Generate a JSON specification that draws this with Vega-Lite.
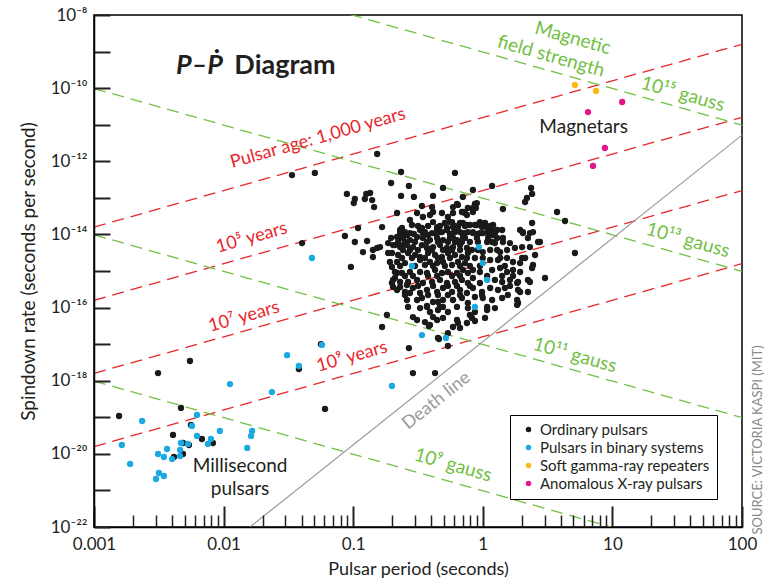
{
"$schema":"https://vega.github.io/schema/vega-lite/v6.json",
"width":648,"height":512,
"autosize":{"type":"none"},
"padding":{"left":94,"top":15,"right":30,"bottom":57},
"config":{
 "font":"Lato",
 "view":{"stroke":"black","strokeWidth":1.5},
 "axis":{"grid":false,"domainColor":"black","domainWidth":1.5,"labelColor":"#231f20","titleColor":"#231f20","titleFontWeight":"normal","labelFont":"Lato","titleFont":"Lato","labelFlush":false,"labelOverlap":false}
},
"datasets":{
"lines":[
{"line":"a3","kind":"age","P":0.001,"Pdot":1.584e-14},{"line":"a3","kind":"age","P":100,"Pdot":1.584e-9},
{"line":"a5","kind":"age","P":0.001,"Pdot":1.584e-16},{"line":"a5","kind":"age","P":100,"Pdot":1.584e-11},
{"line":"a7","kind":"age","P":0.001,"Pdot":1.584e-18},{"line":"a7","kind":"age","P":100,"Pdot":1.584e-13},
{"line":"a9","kind":"age","P":0.001,"Pdot":1.584e-20},{"line":"a9","kind":"age","P":100,"Pdot":1.584e-15},
{"line":"b15","kind":"field","P":0.001,"Pdot":9.77e-7},{"line":"b15","kind":"field","P":100,"Pdot":9.77e-12},
{"line":"b13","kind":"field","P":0.001,"Pdot":9.77e-11},{"line":"b13","kind":"field","P":100,"Pdot":9.77e-16},
{"line":"b11","kind":"field","P":0.001,"Pdot":9.77e-15},{"line":"b11","kind":"field","P":100,"Pdot":9.77e-20},
{"line":"b9","kind":"field","P":0.001,"Pdot":9.77e-19},{"line":"b9","kind":"field","P":100,"Pdot":9.77e-24},
{"line":"death","kind":"death","P":0.016,"Pdot":1e-22},{"line":"death","kind":"death","P":100,"Pdot":5.2e-12}
],
"labels":[
{"text":"Pulsar age: 1,000 years","P":0.0535,"Pdot":4.2e-12,"group":"age"},
{"text":"10⁵ years","P":0.0165,"Pdot":8.0e-15,"group":"age"},
{"text":"10⁷ years","P":0.0144,"Pdot":5.5e-17,"group":"age"},
{"text":"10⁹ years","P":0.098,"Pdot":4.45e-18,"group":"age"},
{"text":"Magnetic","P":4.96,"Pdot":2.35e-9,"group":"field"},
{"text":"field strength","P":3.36,"Pdot":7.5e-10,"group":"field"},
{"text":"10¹⁵ gauss","P":35,"Pdot":6.9e-11,"group":"field"},
{"text":"10¹³ gauss","P":38.3,"Pdot":7.0e-15,"group":"field"},
{"text":"10¹¹ gauss","P":5.14,"Pdot":5.0e-18,"group":"field"},
{"text":"10⁹ gauss","P":0.59,"Pdot":4.95e-21,"group":"field"},
{"text":"Magnetars","P":6.0,"Pdot":8.7e-12,"group":"note"},
{"text":"Millisecond","P":0.0134,"Pdot":4.65e-21,"group":"note"},
{"text":"pulsars","P":0.0134,"Pdot":1.07e-21,"group":"note"},
{"text":"Death line","P":0.44,"Pdot":2.8e-19,"group":"death"},
{"text":"P–Ṗ","P":0.00429,"Pdot":2.5e-10,"group":"titleA"},
{"text":"Diagram","P":0.0121,"Pdot":2.5e-10,"group":"titleB"},
{"text":"SOURCE:  VICTORIA KASPI (MIT)","P":133,"Pdot":2.4e-20,"group":"source"}
],
"pulsars":[
{"P":0.0337,"Pdot":4.2e-13,"type":"Ordinary pulsars"},
{"P":0.0506,"Pdot":4.8e-13,"type":"Ordinary pulsars"},
{"P":0.0403,"Pdot":5.8e-15,"type":"Ordinary pulsars"},
{"P":0.153,"Pdot":1.58e-12,"type":"Ordinary pulsars"},
{"P":0.0894,"Pdot":1.28e-13,"type":"Ordinary pulsars"},
{"P":0.103,"Pdot":9.3e-14,"type":"Ordinary pulsars"},
{"P":0.101,"Pdot":7.2e-14,"type":"Ordinary pulsars"},
{"P":0.126,"Pdot":1.28e-13,"type":"Ordinary pulsars"},
{"P":0.135,"Pdot":1.36e-13,"type":"Ordinary pulsars"},
{"P":0.123,"Pdot":9.3e-14,"type":"Ordinary pulsars"},
{"P":0.140,"Pdot":8.7e-14,"type":"Ordinary pulsars"},
{"P":0.145,"Pdot":5.6e-14,"type":"Ordinary pulsars"},
{"P":0.196,"Pdot":2.55e-13,"type":"Ordinary pulsars"},
{"P":0.234,"Pdot":5.1e-13,"type":"Ordinary pulsars"},
{"P":0.269,"Pdot":2.12e-13,"type":"Ordinary pulsars"},
{"P":0.234,"Pdot":1.13e-13,"type":"Ordinary pulsars"},
{"P":0.294,"Pdot":1.06e-13,"type":"Ordinary pulsars"},
{"P":0.413,"Pdot":1.13e-13,"type":"Ordinary pulsars"},
{"P":0.493,"Pdot":1.87e-13,"type":"Ordinary pulsars"},
{"P":0.610,"Pdot":4.8e-13,"type":"Ordinary pulsars"},
{"P":0.839,"Pdot":1.64e-13,"type":"Ordinary pulsars"},
{"P":1.18,"Pdot":2.12e-13,"type":"Ordinary pulsars"},
{"P":2.36,"Pdot":1.87e-13,"type":"Ordinary pulsars"},
{"P":2.40,"Pdot":1.28e-13,"type":"Ordinary pulsars"},
{"P":2.19,"Pdot":9.9e-14,"type":"Ordinary pulsars"},
{"P":2.12,"Pdot":7.7e-14,"type":"Ordinary pulsars"},
{"P":1.43,"Pdot":4.95e-14,"type":"Ordinary pulsars"},
{"P":3.74,"Pdot":4.1e-14,"type":"Ordinary pulsars"},
{"P":4.31,"Pdot":2.33e-14,"type":"Ordinary pulsars"},
{"P":5.14,"Pdot":3.1e-15,"type":"Ordinary pulsars"},
{"P":3.02,"Pdot":6.45e-16,"type":"Ordinary pulsars"},
{"P":0.702,"Pdot":1.06e-13,"type":"Ordinary pulsars"},
{"P":0.109,"Pdot":1.50e-14,"type":"Ordinary pulsars"},
{"P":0.0863,"Pdot":9.05e-15,"type":"Ordinary pulsars"},
{"P":0.103,"Pdot":6.2e-15,"type":"Ordinary pulsars"},
{"P":0.128,"Pdot":6.6e-15,"type":"Ordinary pulsars"},
{"P":0.096,"Pdot":1.29e-15,"type":"Ordinary pulsars"},
{"P":0.119,"Pdot":3.3e-15,"type":"Ordinary pulsars"},
{"P":0.153,"Pdot":4.26e-15,"type":"Ordinary pulsars"},
{"P":0.142,"Pdot":3.75e-15,"type":"Ordinary pulsars"},
{"P":0.167,"Pdot":1.59e-14,"type":"Ordinary pulsars"},
{"P":0.218,"Pdot":3.85e-14,"type":"Ordinary pulsars"},
{"P":0.161,"Pdot":4.5e-15,"type":"Ordinary pulsars"},
{"P":0.186,"Pdot":5.8e-15,"type":"Ordinary pulsars"},
{"P":0.210,"Pdot":5.1e-15,"type":"Ordinary pulsars"},
{"P":0.242,"Pdot":5.1e-15,"type":"Ordinary pulsars"},
{"P":0.142,"Pdot":2.41e-15,"type":"Ordinary pulsars"},
{"P":0.186,"Pdot":3.1e-15,"type":"Ordinary pulsars"},
{"P":0.192,"Pdot":1.76e-15,"type":"Ordinary pulsars"},
{"P":0.199,"Pdot":1.29e-15,"type":"Ordinary pulsars"},
{"P":0.218,"Pdot":8.8e-16,"type":"Ordinary pulsars"},
{"P":0.210,"Pdot":6.45e-16,"type":"Ordinary pulsars"},
{"P":0.199,"Pdot":4.7e-16,"type":"Ordinary pulsars"},
{"P":0.203,"Pdot":3.66e-16,"type":"Ordinary pulsars"},
{"P":0.230,"Pdot":3.66e-16,"type":"Ordinary pulsars"},
{"P":0.260,"Pdot":4.15e-16,"type":"Ordinary pulsars"},
{"P":0.251,"Pdot":2.21e-16,"type":"Ordinary pulsars"},
{"P":0.274,"Pdot":2.5e-16,"type":"Ordinary pulsars"},
{"P":0.328,"Pdot":2.5e-16,"type":"Ordinary pulsars"},
{"P":0.311,"Pdot":1.61e-16,"type":"Ordinary pulsars"},
{"P":0.265,"Pdot":1.04e-16,"type":"Ordinary pulsars"},
{"P":0.289,"Pdot":5.5e-17,"type":"Ordinary pulsars"},
{"P":0.328,"Pdot":9.7e-17,"type":"Ordinary pulsars"},
{"P":0.371,"Pdot":1.04e-16,"type":"Ordinary pulsars"},
{"P":0.391,"Pdot":7.55e-17,"type":"Ordinary pulsars"},
{"P":0.413,"Pdot":5.5e-17,"type":"Ordinary pulsars"},
{"P":0.451,"Pdot":1.42e-16,"type":"Ordinary pulsars"},
{"P":0.493,"Pdot":1.04e-16,"type":"Ordinary pulsars"},
{"P":0.451,"Pdot":8.6e-17,"type":"Ordinary pulsars"},
{"P":0.311,"Pdot":4.57e-17,"type":"Ordinary pulsars"},
{"P":0.358,"Pdot":4.0e-17,"type":"Ordinary pulsars"},
{"P":0.391,"Pdot":3.33e-17,"type":"Ordinary pulsars"},
{"P":0.444,"Pdot":4.57e-17,"type":"Ordinary pulsars"},
{"P":0.493,"Pdot":5.2e-17,"type":"Ordinary pulsars"},
{"P":0.538,"Pdot":7.55e-17,"type":"Ordinary pulsars"},
{"P":0.167,"Pdot":2.94e-17,"type":"Ordinary pulsars"},
{"P":0.451,"Pdot":1.47e-17,"type":"Ordinary pulsars"},
{"P":0.459,"Pdot":1.38e-17,"type":"Ordinary pulsars"},
{"P":0.538,"Pdot":2.0e-17,"type":"Ordinary pulsars"},
{"P":0.269,"Pdot":7.8e-18,"type":"Ordinary pulsars"},
{"P":0.289,"Pdot":1.62e-18,"type":"Ordinary pulsars"},
{"P":0.428,"Pdot":1.62e-18,"type":"Ordinary pulsars"},
{"P":0.538,"Pdot":8.9e-18,"type":"Ordinary pulsars"},
{"P":0.384,"Pdot":3.13e-17,"type":"Ordinary pulsars"},
{"P":0.182,"Pdot":6.25e-17,"type":"Ordinary pulsars"},
{"P":0.0606,"Pdot":1.69e-19,"type":"Ordinary pulsars"},
{"P":0.0564,"Pdot":1.0e-17,"type":"Ordinary pulsars"},
{"P":0.0381,"Pdot":2.09e-18,"type":"Ordinary pulsars"},
{"P":0.00156,"Pdot":1.085e-19,"type":"Ordinary pulsars"},
{"P":0.00312,"Pdot":1.62e-18,"type":"Ordinary pulsars"},
{"P":0.0055,"Pdot":3.46e-18,"type":"Ordinary pulsars"},
{"P":0.00469,"Pdot":1.8e-19,"type":"Ordinary pulsars"},
{"P":0.0056,"Pdot":6.2e-20,"type":"Ordinary pulsars"},
{"P":0.00407,"Pdot":3.29e-20,"type":"Ordinary pulsars"},
{"P":0.00486,"Pdot":1.98e-20,"type":"Ordinary pulsars"},
{"P":0.0054,"Pdot":1.75e-20,"type":"Ordinary pulsars"},
{"P":0.0068,"Pdot":2.55e-20,"type":"Ordinary pulsars"},
{"P":0.00827,"Pdot":1.98e-20,"type":"Ordinary pulsars"},
{"P":0.00414,"Pdot":8.2e-21,"type":"Ordinary pulsars"},
{"P":0.00486,"Pdot":9.9e-21,"type":"Ordinary pulsars"},
{"P":2.31,"Pdot":4.5e-15,"type":"Ordinary pulsars"},
{"P":2.67,"Pdot":6.2e-15,"type":"Ordinary pulsars"},
{"P":2.53,"Pdot":2.74e-15,"type":"Ordinary pulsars"},
{"P":2.01,"Pdot":2.27e-15,"type":"Ordinary pulsars"},
{"P":2.44,"Pdot":1.46e-15,"type":"Ordinary pulsars"},
{"P":2.31,"Pdot":5.0e-16,"type":"Ordinary pulsars"},
{"P":1.84,"Pdot":4.7e-16,"type":"Ordinary pulsars"},
{"P":1.94,"Pdot":2.67e-16,"type":"Ordinary pulsars"},
{"P":1.84,"Pdot":1.61e-16,"type":"Ordinary pulsars"},
{"P":1.87,"Pdot":1.34e-16,"type":"Ordinary pulsars"},
{"P":1.08,"Pdot":8.6e-17,"type":"Ordinary pulsars"},
{"P":1.04,"Pdot":5.2e-17,"type":"Ordinary pulsars"},
{"P":0.795,"Pdot":6.25e-17,"type":"Ordinary pulsars"},
{"P":0.754,"Pdot":3.78e-17,"type":"Ordinary pulsars"},
{"P":0.632,"Pdot":4.57e-17,"type":"Ordinary pulsars"},
{"P":0.589,"Pdot":2.94e-17,"type":"Ordinary pulsars"},
{"P":0.667,"Pdot":2.76e-17,"type":"Ordinary pulsars"},
{"P":0.767,"Pdot":9.7e-17,"type":"Ordinary pulsars"},
{"P":0.869,"Pdot":7.55e-17,"type":"Ordinary pulsars"},
{"P":0.824,"Pdot":5.2e-17,"type":"Ordinary pulsars"},
{"P":0.643,"Pdot":3.78e-17,"type":"Ordinary pulsars"},
{"P":0.869,"Pdot":4.3e-17,"type":"Ordinary pulsars"},
{"P":1.94,"Pdot":1.32e-14,"type":"Ordinary pulsars"},
{"P":2.04,"Pdot":1.09e-14,"type":"Ordinary pulsars"},
{"P":2.31,"Pdot":1.09e-14,"type":"Ordinary pulsars"},
{"P":2.44,"Pdot":1.16e-14,"type":"Ordinary pulsars"},
{"P":2.23,"Pdot":8.0e-15,"type":"Ordinary pulsars"},
{"P":0.238,"Pdot":1.5e-14,"type":"Ordinary pulsars"},
{"P":0.247,"Pdot":1.16e-14,"type":"Ordinary pulsars"},
{"P":0.230,"Pdot":1.09e-14,"type":"Ordinary pulsars"},
{"P":0.260,"Pdot":9.6e-15,"type":"Ordinary pulsars"},
{"P":0.274,"Pdot":1.09e-14,"type":"Ordinary pulsars"},
{"P":0.339,"Pdot":1.5e-14,"type":"Ordinary pulsars"},
{"P":0.345,"Pdot":1.09e-14,"type":"Ordinary pulsars"},
{"P":0.378,"Pdot":9.6e-15,"type":"Ordinary pulsars"},
{"P":0.444,"Pdot":1.32e-14,"type":"Ordinary pulsars"},
{"P":0.484,"Pdot":1.16e-14,"type":"Ordinary pulsars"},
{"P":0.529,"Pdot":1.5e-14,"type":"Ordinary pulsars"},
{"P":0.196,"Pdot":8.0e-15,"type":"Ordinary pulsars"},
{"P":0.230,"Pdot":8.5e-15,"type":"Ordinary pulsars"},
{"P":0.589,"Pdot":5.6e-14,"type":"Ordinary pulsars"},
{"P":0.632,"Pdot":6.8e-14,"type":"Ordinary pulsars"},
{"P":0.702,"Pdot":4.1e-14,"type":"Ordinary pulsars"},
{"P":0.767,"Pdot":5.3e-14,"type":"Ordinary pulsars"},
{"P":0.884,"Pdot":5.3e-14,"type":"Ordinary pulsars"},
{"P":0.869,"Pdot":6.8e-14,"type":"Ordinary pulsars"},
{"P":0.839,"Pdot":4.1e-14,"type":"Ordinary pulsars"},
{"P":0.754,"Pdot":3.4e-14,"type":"Ordinary pulsars"},
{"P":0.579,"Pdot":2.18e-14,"type":"Ordinary pulsars"},
{"P":0.643,"Pdot":1.59e-14,"type":"Ordinary pulsars"},
{"P":0.702,"Pdot":2.05e-14,"type":"Ordinary pulsars"},
{"P":0.795,"Pdot":1.81e-14,"type":"Ordinary pulsars"},
{"P":0.869,"Pdot":1.81e-14,"type":"Ordinary pulsars"},
{"P":0.950,"Pdot":2.18e-14,"type":"Ordinary pulsars"},
{"P":0.986,"Pdot":1.59e-14,"type":"Ordinary pulsars"},
{"P":1.08,"Pdot":1.50e-14,"type":"Ordinary pulsars"},
{"P":1.18,"Pdot":1.32e-14,"type":"Ordinary pulsars"},
{"P":1.29,"Pdot":1.32e-14,"type":"Ordinary pulsars"},
{"P":0.610,"Pdot":1.16e-14,"type":"Ordinary pulsars"},
{"P":0.690,"Pdot":1.09e-14,"type":"Ordinary pulsars"},
{"P":0.767,"Pdot":1.16e-14,"type":"Ordinary pulsars"},
{"P":0.839,"Pdot":1.09e-14,"type":"Ordinary pulsars"},
{"P":1.00,"Pdot":1.09e-14,"type":"Ordinary pulsars"},
{"P":1.20,"Pdot":9.6e-15,"type":"Ordinary pulsars"},
{"P":1.43,"Pdot":8.0e-15,"type":"Ordinary pulsars"},
{"P":0.589,"Pdot":8.0e-15,"type":"Ordinary pulsars"},
{"P":0.728,"Pdot":8.0e-15,"type":"Ordinary pulsars"},
{"P":0.900,"Pdot":8.0e-15,"type":"Ordinary pulsars"},
{"P":1.10,"Pdot":8.0e-15,"type":"Ordinary pulsars"},
{"P":1.29,"Pdot":8.0e-15,"type":"Ordinary pulsars"},
{"P":0.339,"Pdot":6.0e-14,"type":"Ordinary pulsars"},
{"P":0.406,"Pdot":5.6e-14,"type":"Ordinary pulsars"},
{"P":0.643,"Pdot":6.4e-14,"type":"Ordinary pulsars"},
{"P":0.690,"Pdot":4.1e-14,"type":"Ordinary pulsars"},
{"P":0.311,"Pdot":3.85e-14,"type":"Ordinary pulsars"},
{"P":0.345,"Pdot":3.0e-14,"type":"Ordinary pulsars"},
{"P":0.391,"Pdot":3.4e-14,"type":"Ordinary pulsars"},
{"P":0.413,"Pdot":4.1e-14,"type":"Ordinary pulsars"},
{"P":0.484,"Pdot":3.85e-14,"type":"Ordinary pulsars"},
{"P":0.538,"Pdot":3.0e-14,"type":"Ordinary pulsars"},
{"P":0.589,"Pdot":3.85e-14,"type":"Ordinary pulsars"},
{"P":0.728,"Pdot":3.85e-14,"type":"Ordinary pulsars"},
{"P":0.274,"Pdot":2.48e-14,"type":"Ordinary pulsars"},
{"P":0.284,"Pdot":1.81e-14,"type":"Ordinary pulsars"},
{"P":0.413,"Pdot":2.18e-14,"type":"Ordinary pulsars"},
{"P":0.444,"Pdot":1.59e-14,"type":"Ordinary pulsars"},
{"P":0.510,"Pdot":2.05e-14,"type":"Ordinary pulsars"},
{"P":0.558,"Pdot":2.18e-14,"type":"Ordinary pulsars"},
{"P":0.589,"Pdot":1.59e-14,"type":"Ordinary pulsars"},
{"P":0.667,"Pdot":2.05e-14,"type":"Ordinary pulsars"},
{"P":0.754,"Pdot":1.81e-14,"type":"Ordinary pulsars"},
{"P":0.230,"Pdot":1.32e-14,"type":"Ordinary pulsars"},
{"P":0.251,"Pdot":1.16e-14,"type":"Ordinary pulsars"},
{"P":0.328,"Pdot":1.32e-14,"type":"Ordinary pulsars"},
{"P":0.358,"Pdot":1.16e-14,"type":"Ordinary pulsars"},
{"P":0.406,"Pdot":1.09e-14,"type":"Ordinary pulsars"},
{"P":0.467,"Pdot":1.16e-14,"type":"Ordinary pulsars"},
{"P":0.529,"Pdot":1.32e-14,"type":"Ordinary pulsars"},
{"P":0.589,"Pdot":1.09e-14,"type":"Ordinary pulsars"},
{"P":0.667,"Pdot":1.16e-14,"type":"Ordinary pulsars"},
{"P":0.728,"Pdot":1.09e-14,"type":"Ordinary pulsars"},
{"P":0.218,"Pdot":8.5e-15,"type":"Ordinary pulsars"},
{"P":0.242,"Pdot":8.0e-15,"type":"Ordinary pulsars"},
{"P":0.274,"Pdot":7.0e-15,"type":"Ordinary pulsars"},
{"P":0.311,"Pdot":8.5e-15,"type":"Ordinary pulsars"},
{"P":0.345,"Pdot":8.0e-15,"type":"Ordinary pulsars"},
{"P":0.391,"Pdot":7.0e-15,"type":"Ordinary pulsars"},
{"P":0.444,"Pdot":8.0e-15,"type":"Ordinary pulsars"},
{"P":0.493,"Pdot":7.0e-15,"type":"Ordinary pulsars"},
{"P":0.558,"Pdot":8.0e-15,"type":"Ordinary pulsars"},
{"P":0.632,"Pdot":7.0e-15,"type":"Ordinary pulsars"},
{"P":0.702,"Pdot":8.0e-15,"type":"Ordinary pulsars"},
{"P":0.203,"Pdot":5.1e-15,"type":"Ordinary pulsars"},
{"P":0.230,"Pdot":4.5e-15,"type":"Ordinary pulsars"},
{"P":0.260,"Pdot":5.1e-15,"type":"Ordinary pulsars"},
{"P":0.289,"Pdot":4.5e-15,"type":"Ordinary pulsars"},
{"P":0.339,"Pdot":5.1e-15,"type":"Ordinary pulsars"},
{"P":0.371,"Pdot":4.26e-15,"type":"Ordinary pulsars"},
{"P":0.413,"Pdot":4.5e-15,"type":"Ordinary pulsars"},
{"P":0.467,"Pdot":5.1e-15,"type":"Ordinary pulsars"},
{"P":0.529,"Pdot":4.26e-15,"type":"Ordinary pulsars"},
{"P":0.589,"Pdot":4.5e-15,"type":"Ordinary pulsars"},
{"P":0.667,"Pdot":5.1e-15,"type":"Ordinary pulsars"},
{"P":0.754,"Pdot":4.26e-15,"type":"Ordinary pulsars"},
{"P":0.199,"Pdot":3.1e-15,"type":"Ordinary pulsars"},
{"P":0.222,"Pdot":2.74e-15,"type":"Ordinary pulsars"},
{"P":0.265,"Pdot":3.1e-15,"type":"Ordinary pulsars"},
{"P":0.300,"Pdot":2.74e-15,"type":"Ordinary pulsars"},
{"P":0.328,"Pdot":2.41e-15,"type":"Ordinary pulsars"},
{"P":0.378,"Pdot":3.1e-15,"type":"Ordinary pulsars"},
{"P":0.428,"Pdot":2.74e-15,"type":"Ordinary pulsars"},
{"P":0.484,"Pdot":2.41e-15,"type":"Ordinary pulsars"},
{"P":0.538,"Pdot":3.1e-15,"type":"Ordinary pulsars"},
{"P":0.610,"Pdot":2.74e-15,"type":"Ordinary pulsars"},
{"P":0.690,"Pdot":2.41e-15,"type":"Ordinary pulsars"},
{"P":0.767,"Pdot":3.1e-15,"type":"Ordinary pulsars"},
{"P":0.218,"Pdot":1.76e-15,"type":"Ordinary pulsars"},
{"P":0.251,"Pdot":1.65e-15,"type":"Ordinary pulsars"},
{"P":0.328,"Pdot":2.0e-15,"type":"Ordinary pulsars"},
{"P":0.358,"Pdot":1.46e-15,"type":"Ordinary pulsars"},
{"P":0.391,"Pdot":1.76e-15,"type":"Ordinary pulsars"},
{"P":0.444,"Pdot":1.65e-15,"type":"Ordinary pulsars"},
{"P":0.493,"Pdot":1.76e-15,"type":"Ordinary pulsars"},
{"P":0.579,"Pdot":1.46e-15,"type":"Ordinary pulsars"},
{"P":0.643,"Pdot":1.76e-15,"type":"Ordinary pulsars"},
{"P":0.728,"Pdot":1.65e-15,"type":"Ordinary pulsars"},
{"P":0.210,"Pdot":9.4e-16,"type":"Ordinary pulsars"},
{"P":0.238,"Pdot":8.8e-16,"type":"Ordinary pulsars"},
{"P":0.274,"Pdot":9.4e-16,"type":"Ordinary pulsars"},
{"P":0.328,"Pdot":9.4e-16,"type":"Ordinary pulsars"},
{"P":0.371,"Pdot":8.8e-16,"type":"Ordinary pulsars"},
{"P":0.428,"Pdot":1.065e-15,"type":"Ordinary pulsars"},
{"P":0.484,"Pdot":8.8e-16,"type":"Ordinary pulsars"},
{"P":0.538,"Pdot":9.4e-16,"type":"Ordinary pulsars"},
{"P":0.632,"Pdot":8.8e-16,"type":"Ordinary pulsars"},
{"P":0.702,"Pdot":1.065e-15,"type":"Ordinary pulsars"},
{"P":0.767,"Pdot":8.8e-16,"type":"Ordinary pulsars"},
{"P":0.203,"Pdot":5.7e-16,"type":"Ordinary pulsars"},
{"P":0.230,"Pdot":5.0e-16,"type":"Ordinary pulsars"},
{"P":0.265,"Pdot":5.0e-16,"type":"Ordinary pulsars"},
{"P":0.311,"Pdot":5.7e-16,"type":"Ordinary pulsars"},
{"P":0.345,"Pdot":4.7e-16,"type":"Ordinary pulsars"},
{"P":0.406,"Pdot":5.0e-16,"type":"Ordinary pulsars"},
{"P":0.467,"Pdot":5.7e-16,"type":"Ordinary pulsars"},
{"P":0.529,"Pdot":4.7e-16,"type":"Ordinary pulsars"},
{"P":0.610,"Pdot":5.0e-16,"type":"Ordinary pulsars"},
{"P":0.690,"Pdot":5.7e-16,"type":"Ordinary pulsars"},
{"P":0.767,"Pdot":4.7e-16,"type":"Ordinary pulsars"},
{"P":0.218,"Pdot":3.03e-16,"type":"Ordinary pulsars"},
{"P":0.251,"Pdot":2.67e-16,"type":"Ordinary pulsars"},
{"P":0.289,"Pdot":3.43e-16,"type":"Ordinary pulsars"},
{"P":0.371,"Pdot":3.03e-16,"type":"Ordinary pulsars"},
{"P":0.444,"Pdot":2.67e-16,"type":"Ordinary pulsars"},
{"P":0.493,"Pdot":3.43e-16,"type":"Ordinary pulsars"},
{"P":0.579,"Pdot":2.67e-16,"type":"Ordinary pulsars"},
{"P":0.667,"Pdot":3.03e-16,"type":"Ordinary pulsars"},
{"P":0.754,"Pdot":2.5e-16,"type":"Ordinary pulsars"},
{"P":0.260,"Pdot":1.61e-16,"type":"Ordinary pulsars"},
{"P":0.339,"Pdot":1.83e-16,"type":"Ordinary pulsars"},
{"P":0.413,"Pdot":1.42e-16,"type":"Ordinary pulsars"},
{"P":0.493,"Pdot":1.61e-16,"type":"Ordinary pulsars"},
{"P":0.589,"Pdot":1.61e-16,"type":"Ordinary pulsars"},
{"P":0.690,"Pdot":1.83e-16,"type":"Ordinary pulsars"},
{"P":0.767,"Pdot":1.34e-16,"type":"Ordinary pulsars"},
{"P":0.371,"Pdot":1.11e-16,"type":"Ordinary pulsars"},
{"P":0.467,"Pdot":1.04e-16,"type":"Ordinary pulsars"},
{"P":0.632,"Pdot":1.04e-16,"type":"Ordinary pulsars"},
{"P":0.839,"Pdot":5.3e-14,"type":"Ordinary pulsars"},
{"P":0.900,"Pdot":7.2e-14,"type":"Ordinary pulsars"},
{"P":0.900,"Pdot":1.81e-14,"type":"Ordinary pulsars"},
{"P":1.04,"Pdot":2.05e-14,"type":"Ordinary pulsars"},
{"P":1.20,"Pdot":1.81e-14,"type":"Ordinary pulsars"},
{"P":1.41,"Pdot":1.32e-14,"type":"Ordinary pulsars"},
{"P":1.24,"Pdot":1.09e-14,"type":"Ordinary pulsars"},
{"P":1.10,"Pdot":1.16e-14,"type":"Ordinary pulsars"},
{"P":0.950,"Pdot":1.09e-14,"type":"Ordinary pulsars"},
{"P":0.839,"Pdot":1.16e-14,"type":"Ordinary pulsars"},
{"P":2.40,"Pdot":2.05e-14,"type":"Ordinary pulsars"},
{"P":2.04,"Pdot":1.16e-14,"type":"Ordinary pulsars"},
{"P":2.76,"Pdot":6.2e-15,"type":"Ordinary pulsars"},
{"P":1.08,"Pdot":6.2e-15,"type":"Ordinary pulsars"},
{"P":1.24,"Pdot":5.8e-15,"type":"Ordinary pulsars"},
{"P":1.43,"Pdot":6.2e-15,"type":"Ordinary pulsars"},
{"P":1.62,"Pdot":5.8e-15,"type":"Ordinary pulsars"},
{"P":1.77,"Pdot":4.26e-15,"type":"Ordinary pulsars"},
{"P":1.54,"Pdot":3.75e-15,"type":"Ordinary pulsars"},
{"P":1.36,"Pdot":3.3e-15,"type":"Ordinary pulsars"},
{"P":1.14,"Pdot":3.75e-15,"type":"Ordinary pulsars"},
{"P":1.00,"Pdot":3.3e-15,"type":"Ordinary pulsars"},
{"P":0.824,"Pdot":3.75e-15,"type":"Ordinary pulsars"},
{"P":2.01,"Pdot":4.5e-15,"type":"Ordinary pulsars"},
{"P":2.12,"Pdot":2.27e-15,"type":"Ordinary pulsars"},
{"P":0.869,"Pdot":2.27e-15,"type":"Ordinary pulsars"},
{"P":1.14,"Pdot":2.0e-15,"type":"Ordinary pulsars"},
{"P":1.31,"Pdot":2.0e-15,"type":"Ordinary pulsars"},
{"P":1.54,"Pdot":2.27e-15,"type":"Ordinary pulsars"},
{"P":1.71,"Pdot":1.76e-15,"type":"Ordinary pulsars"},
{"P":1.94,"Pdot":1.65e-15,"type":"Ordinary pulsars"},
{"P":0.839,"Pdot":1.065e-15,"type":"Ordinary pulsars"},
{"P":0.950,"Pdot":9.4e-16,"type":"Ordinary pulsars"},
{"P":1.18,"Pdot":1.065e-15,"type":"Ordinary pulsars"},
{"P":1.36,"Pdot":1.21e-15,"type":"Ordinary pulsars"},
{"P":1.54,"Pdot":9.4e-16,"type":"Ordinary pulsars"},
{"P":1.71,"Pdot":1.065e-15,"type":"Ordinary pulsars"},
{"P":1.94,"Pdot":9.4e-16,"type":"Ordinary pulsars"},
{"P":2.40,"Pdot":1.21e-15,"type":"Ordinary pulsars"},
{"P":0.839,"Pdot":6.45e-16,"type":"Ordinary pulsars"},
{"P":0.950,"Pdot":4.7e-16,"type":"Ordinary pulsars"},
{"P":1.24,"Pdot":5.7e-16,"type":"Ordinary pulsars"},
{"P":1.41,"Pdot":5.0e-16,"type":"Ordinary pulsars"},
{"P":1.62,"Pdot":5.7e-16,"type":"Ordinary pulsars"},
{"P":1.87,"Pdot":5.0e-16,"type":"Ordinary pulsars"},
{"P":2.23,"Pdot":5.7e-16,"type":"Ordinary pulsars"},
{"P":0.839,"Pdot":3.43e-16,"type":"Ordinary pulsars"},
{"P":0.986,"Pdot":2.67e-16,"type":"Ordinary pulsars"},
{"P":1.14,"Pdot":3.43e-16,"type":"Ordinary pulsars"},
{"P":1.31,"Pdot":3.03e-16,"type":"Ordinary pulsars"},
{"P":1.48,"Pdot":3.43e-16,"type":"Ordinary pulsars"},
{"P":1.87,"Pdot":3.03e-16,"type":"Ordinary pulsars"},
{"P":2.23,"Pdot":2.67e-16,"type":"Ordinary pulsars"},
{"P":0.869,"Pdot":1.95e-16,"type":"Ordinary pulsars"},
{"P":1.00,"Pdot":1.83e-16,"type":"Ordinary pulsars"},
{"P":1.18,"Pdot":1.61e-16,"type":"Ordinary pulsars"},
{"P":1.41,"Pdot":1.83e-16,"type":"Ordinary pulsars"},
{"P":1.08,"Pdot":1.04e-16,"type":"Ordinary pulsars"},
{"P":1.24,"Pdot":9.7e-17,"type":"Ordinary pulsars"},
{"P":1.84,"Pdot":1.18e-16,"type":"Ordinary pulsars"},
{"P":0.316,"Pdot":1.70e-14,"type":"Ordinary pulsars"},
{"P":0.378,"Pdot":1.70e-14,"type":"Ordinary pulsars"},
{"P":0.467,"Pdot":1.70e-14,"type":"Ordinary pulsars"},
{"P":0.610,"Pdot":1.70e-14,"type":"Ordinary pulsars"},
{"P":0.728,"Pdot":1.70e-14,"type":"Ordinary pulsars"},
{"P":1.14,"Pdot":1.70e-14,"type":"Ordinary pulsars"},
{"P":0.294,"Pdot":1.03e-14,"type":"Ordinary pulsars"},
{"P":0.436,"Pdot":1.03e-14,"type":"Ordinary pulsars"},
{"P":0.558,"Pdot":1.03e-14,"type":"Ordinary pulsars"},
{"P":0.917,"Pdot":1.03e-14,"type":"Ordinary pulsars"},
{"P":1.10,"Pdot":1.03e-14,"type":"Ordinary pulsars"},
{"P":0.222,"Pdot":6.2e-15,"type":"Ordinary pulsars"},
{"P":0.251,"Pdot":6.2e-15,"type":"Ordinary pulsars"},
{"P":0.300,"Pdot":6.2e-15,"type":"Ordinary pulsars"},
{"P":0.371,"Pdot":6.2e-15,"type":"Ordinary pulsars"},
{"P":0.451,"Pdot":6.2e-15,"type":"Ordinary pulsars"},
{"P":0.538,"Pdot":6.2e-15,"type":"Ordinary pulsars"},
{"P":0.610,"Pdot":6.2e-15,"type":"Ordinary pulsars"},
{"P":0.690,"Pdot":6.2e-15,"type":"Ordinary pulsars"},
{"P":0.795,"Pdot":6.2e-15,"type":"Ordinary pulsars"},
{"P":0.917,"Pdot":6.2e-15,"type":"Ordinary pulsars"},
{"P":1.18,"Pdot":6.2e-15,"type":"Ordinary pulsars"},
{"P":0.242,"Pdot":3.75e-15,"type":"Ordinary pulsars"},
{"P":0.274,"Pdot":3.75e-15,"type":"Ordinary pulsars"},
{"P":0.316,"Pdot":3.75e-15,"type":"Ordinary pulsars"},
{"P":0.406,"Pdot":3.75e-15,"type":"Ordinary pulsars"},
{"P":0.493,"Pdot":3.75e-15,"type":"Ordinary pulsars"},
{"P":0.579,"Pdot":3.75e-15,"type":"Ordinary pulsars"},
{"P":0.667,"Pdot":3.75e-15,"type":"Ordinary pulsars"},
{"P":0.917,"Pdot":3.75e-15,"type":"Ordinary pulsars"},
{"P":1.29,"Pdot":3.75e-15,"type":"Ordinary pulsars"},
{"P":0.238,"Pdot":2.27e-15,"type":"Ordinary pulsars"},
{"P":0.284,"Pdot":2.27e-15,"type":"Ordinary pulsars"},
{"P":0.358,"Pdot":2.27e-15,"type":"Ordinary pulsars"},
{"P":0.451,"Pdot":2.27e-15,"type":"Ordinary pulsars"},
{"P":0.558,"Pdot":2.27e-15,"type":"Ordinary pulsars"},
{"P":0.754,"Pdot":2.27e-15,"type":"Ordinary pulsars"},
{"P":1.00,"Pdot":2.27e-15,"type":"Ordinary pulsars"},
{"P":1.36,"Pdot":2.27e-15,"type":"Ordinary pulsars"},
{"P":0.230,"Pdot":1.37e-15,"type":"Ordinary pulsars"},
{"P":0.300,"Pdot":1.37e-15,"type":"Ordinary pulsars"},
{"P":0.413,"Pdot":1.37e-15,"type":"Ordinary pulsars"},
{"P":0.510,"Pdot":1.37e-15,"type":"Ordinary pulsars"},
{"P":0.667,"Pdot":1.37e-15,"type":"Ordinary pulsars"},
{"P":0.795,"Pdot":1.37e-15,"type":"Ordinary pulsars"},
{"P":0.950,"Pdot":1.37e-15,"type":"Ordinary pulsars"},
{"P":1.48,"Pdot":1.37e-15,"type":"Ordinary pulsars"},
{"P":0.251,"Pdot":7.3e-16,"type":"Ordinary pulsars"},
{"P":0.289,"Pdot":7.3e-16,"type":"Ordinary pulsars"},
{"P":0.378,"Pdot":7.3e-16,"type":"Ordinary pulsars"},
{"P":0.444,"Pdot":7.3e-16,"type":"Ordinary pulsars"},
{"P":0.579,"Pdot":7.3e-16,"type":"Ordinary pulsars"},
{"P":0.667,"Pdot":7.3e-16,"type":"Ordinary pulsars"},
{"P":1.08,"Pdot":7.3e-16,"type":"Ordinary pulsars"},
{"P":1.41,"Pdot":7.3e-16,"type":"Ordinary pulsars"},
{"P":1.71,"Pdot":7.3e-16,"type":"Ordinary pulsars"},
{"P":0.316,"Pdot":3.9e-16,"type":"Ordinary pulsars"},
{"P":0.413,"Pdot":3.9e-16,"type":"Ordinary pulsars"},
{"P":0.538,"Pdot":3.9e-16,"type":"Ordinary pulsars"},
{"P":0.632,"Pdot":3.9e-16,"type":"Ordinary pulsars"},
{"P":0.795,"Pdot":3.9e-16,"type":"Ordinary pulsars"},
{"P":1.62,"Pdot":3.9e-16,"type":"Ordinary pulsars"},
{"P":0.378,"Pdot":2.21e-16,"type":"Ordinary pulsars"},
{"P":0.451,"Pdot":2.21e-16,"type":"Ordinary pulsars"},
{"P":0.538,"Pdot":2.21e-16,"type":"Ordinary pulsars"},
{"P":0.667,"Pdot":2.21e-16,"type":"Ordinary pulsars"},
{"P":0.986,"Pdot":2.21e-16,"type":"Ordinary pulsars"},
{"P":1.56,"Pdot":2.21e-16,"type":"Ordinary pulsars"},
{"P":0.048,"Pdot":2.27e-15,"type":"Pulsars in binary systems"},
{"P":0.284,"Pdot":1.37e-15,"type":"Pulsars in binary systems"},
{"P":0.933,"Pdot":4.5e-15,"type":"Pulsars in binary systems"},
{"P":1.00,"Pdot":1.65e-15,"type":"Pulsars in binary systems"},
{"P":1.08,"Pdot":5.7e-16,"type":"Pulsars in binary systems"},
{"P":0.869,"Pdot":1.04e-16,"type":"Pulsars in binary systems"},
{"P":0.339,"Pdot":1.77e-17,"type":"Pulsars in binary systems"},
{"P":0.519,"Pdot":1.47e-17,"type":"Pulsars in binary systems"},
{"P":0.199,"Pdot":7.2e-19,"type":"Pulsars in binary systems"},
{"P":0.0574,"Pdot":9.5e-18,"type":"Pulsars in binary systems"},
{"P":0.00164,"Pdot":1.75e-20,"type":"Pulsars in binary systems"},
{"P":0.0019,"Pdot":5.3e-21,"type":"Pulsars in binary systems"},
{"P":0.00235,"Pdot":7.9e-20,"type":"Pulsars in binary systems"},
{"P":0.00301,"Pdot":2.05e-21,"type":"Pulsars in binary systems"},
{"P":0.00317,"Pdot":2.99e-21,"type":"Pulsars in binary systems"},
{"P":0.00346,"Pdot":2.48e-21,"type":"Pulsars in binary systems"},
{"P":0.00312,"Pdot":9.9e-21,"type":"Pulsars in binary systems"},
{"P":0.00346,"Pdot":8.2e-21,"type":"Pulsars in binary systems"},
{"P":0.00366,"Pdot":1.36e-20,"type":"Pulsars in binary systems"},
{"P":0.0040,"Pdot":7.2e-21,"type":"Pulsars in binary systems"},
{"P":0.00461,"Pdot":8.7e-21,"type":"Pulsars in binary systems"},
{"P":0.00461,"Pdot":1.28e-20,"type":"Pulsars in binary systems"},
{"P":0.00469,"Pdot":1.98e-20,"type":"Pulsars in binary systems"},
{"P":0.00531,"Pdot":1.87e-20,"type":"Pulsars in binary systems"},
{"P":0.0057,"Pdot":5.8e-20,"type":"Pulsars in binary systems"},
{"P":0.00623,"Pdot":3.09e-20,"type":"Pulsars in binary systems"},
{"P":0.00623,"Pdot":1.16e-19,"type":"Pulsars in binary systems"},
{"P":0.00757,"Pdot":1.87e-20,"type":"Pulsars in binary systems"},
{"P":0.00798,"Pdot":2.55e-20,"type":"Pulsars in binary systems"},
{"P":0.00936,"Pdot":4.23e-20,"type":"Pulsars in binary systems"},
{"P":0.0112,"Pdot":8.1e-19,"type":"Pulsars in binary systems"},
{"P":0.0152,"Pdot":1.45e-20,"type":"Pulsars in binary systems"},
{"P":0.0163,"Pdot":3.09e-20,"type":"Pulsars in binary systems"},
{"P":0.0166,"Pdot":4.23e-20,"type":"Pulsars in binary systems"},
{"P":0.0236,"Pdot":4.9e-19,"type":"Pulsars in binary systems"},
{"P":0.0309,"Pdot":5.0e-18,"type":"Pulsars in binary systems"},
{"P":0.0381,"Pdot":2.52e-18,"type":"Pulsars in binary systems"},
{"P":5.14,"Pdot":1.22e-10,"type":"Soft gamma-ray repeaters"},
{"P":7.47,"Pdot":8.35e-11,"type":"Soft gamma-ray repeaters"},
{"P":11.9,"Pdot":4.17e-11,"type":"Anomalous X-ray pulsars"},
{"P":6.48,"Pdot":2.22e-11,"type":"Anomalous X-ray pulsars"},
{"P":8.75,"Pdot":2.31e-12,"type":"Anomalous X-ray pulsars"},
{"P":7.08,"Pdot":7.45e-13,"type":"Anomalous X-ray pulsars"}
]
},
"layer":[
 {"data":{"name":"lines"},"transform":[{"filter":"datum.kind === 'age'"}],
  "mark":{"type":"line","color":"#e8262b","strokeDash":[12,7],"strokeWidth":1.3,"clip":true},
  "encoding":{
   "x":{"field":"P","type":"quantitative","scale":{"type":"log","domain":[0.001,100],"nice":false},
        "axis":{"orient":"bottom","zindex":1,"values":[0.001,0.01,0.1,1,10,100],"format":"~g","tickSize":-21,"tickWidth":2,"tickColor":"#231f20","labelPadding":30,"labelFontSize":17,"title":"Pulsar period (seconds)","titleFontSize":18,"titlePadding":8}},
   "y":{"field":"Pdot","type":"quantitative","scale":{"type":"log","domain":[1e-22,1e-8],"nice":false},
        "axis":{"orient":"left","zindex":1,"values":[1e-22,1e-21,1e-20,1e-19,1e-18,1e-17,1e-16,1e-15,1e-14,1e-13,1e-12,1e-11,1e-10,1e-9,1e-8],"tickSize":-16,"tickWidth":2,"tickColor":"#231f20","labelPadding":23,"labelFontSize":17,
        "labelExpr":"datum.value < 1.5e-22 ? '10⁻²²' : datum.value < 1.5e-21 ? '' : datum.value < 1.5e-20 ? '10⁻²⁰' : datum.value < 1.5e-19 ? '' : datum.value < 1.5e-18 ? '10⁻¹⁸' : datum.value < 1.5e-17 ? '' : datum.value < 1.5e-16 ? '10⁻¹⁶' : datum.value < 1.5e-15 ? '' : datum.value < 1.5e-14 ? '10⁻¹⁴' : datum.value < 1.5e-13 ? '' : datum.value < 1.5e-12 ? '10⁻¹²' : datum.value < 1.5e-11 ? '' : datum.value < 1.5e-10 ? '10⁻¹⁰' : datum.value < 1.5e-9 ? '' : '10⁻⁸'",
        "title":"Spindown rate (seconds per second)","titleFontSize":19,"titlePadding":12}},
   "detail":{"field":"line"}}},
 {"data":{"name":"lines"},
  "mark":{"type":"point","opacity":0},
  "encoding":{
   "x":{"field":"P","type":"quantitative","scale":{"type":"log","domain":[0.001,100],"nice":false},
    "axis":{"orient":"top","zindex":1,"offset":-512,"values":[0.002,0.003,0.004,0.005,0.006,0.007,0.008,0.009,0.02,0.03,0.04,0.05,0.06,0.07,0.08,0.09,0.2,0.3,0.4,0.5,0.6,0.7,0.8,0.9,2,3,4,5,6,7,8,9,20,30,40,50,60,70,80,90],"tickSize":12,"tickWidth":1.5,"tickColor":"#231f20","labels":false,"domain":false,"title":null}},
   "y":{"field":"Pdot","type":"quantitative","scale":{"type":"log","domain":[1e-22,1e-8],"nice":false},"axis":null}}},
 {"data":{"name":"lines"},"transform":[{"filter":"datum.kind === 'field'"}],
  "mark":{"type":"line","color":"#72bf44","strokeDash":[12,7],"strokeWidth":1.3,"clip":true},
  "encoding":{"x":{"field":"P","type":"quantitative","axis":null},"y":{"field":"Pdot","type":"quantitative","axis":null},"detail":{"field":"line"}}},
 {"data":{"name":"lines"},"transform":[{"filter":"datum.kind === 'death'"}],
  "mark":{"type":"line","color":"#9a9a9a","strokeWidth":1.2,"clip":true},
  "encoding":{"x":{"field":"P","type":"quantitative","axis":null},"y":{"field":"Pdot","type":"quantitative","axis":null},"detail":{"field":"line"}}},
 {"data":{"name":"pulsars"},
  "mark":{"type":"circle","size":40,"opacity":1},
  "encoding":{"x":{"field":"P","type":"quantitative","axis":null},"y":{"field":"Pdot","type":"quantitative","axis":null},
   "color":{"field":"type","type":"nominal",
     "scale":{"domain":["Ordinary pulsars","Pulsars in binary systems","Soft gamma-ray repeaters","Anomalous X-ray pulsars"],"range":["#1a1a1a","#1ba9e1","#fbb817","#e6148c"]},
     "legend":{"title":null,"orient":"none","legendX":416,"legendY":400,"strokeColor":"black","fillColor":"white","padding":7,"symbolType":"circle","symbolSize":30,"symbolStrokeWidth":0,"labelFontSize":15,"labelLimit":400,"labelColor":"#231f20","rowPadding":2,"symbolOffset":4,"labelOffset":4}}}},
 {"data":{"name":"labels"},"transform":[{"filter":"datum.group === 'age'"}],
  "mark":{"type":"text","angle":344.24,"fontSize":18,"color":"#e8262b","align":"center","baseline":"middle"},
  "encoding":{"x":{"field":"P","type":"quantitative","axis":null},"y":{"field":"Pdot","type":"quantitative","axis":null},"text":{"field":"text"}}},
 {"data":{"name":"labels"},"transform":[{"filter":"datum.group === 'field'"}],
  "mark":{"type":"text","angle":15.76,"fontSize":19,"color":"#72bf44","align":"center","baseline":"middle"},
  "encoding":{"x":{"field":"P","type":"quantitative","axis":null},"y":{"field":"Pdot","type":"quantitative","axis":null},"text":{"field":"text"}}},
 {"data":{"name":"labels"},"transform":[{"filter":"datum.group === 'note'"}],
  "mark":{"type":"text","fontSize":19,"color":"#231f20","align":"center","baseline":"middle"},
  "encoding":{"x":{"field":"P","type":"quantitative","axis":null},"y":{"field":"Pdot","type":"quantitative","axis":null},"text":{"field":"text"}}},
 {"data":{"name":"labels"},"transform":[{"filter":"datum.group === 'death'"}],
  "mark":{"type":"text","angle":321.5,"fontSize":18,"color":"#9a9a9a","align":"center","baseline":"middle"},
  "encoding":{"x":{"field":"P","type":"quantitative","axis":null},"y":{"field":"Pdot","type":"quantitative","axis":null},"text":{"field":"text"}}},
 {"data":{"name":"labels"},"transform":[{"filter":"datum.group === 'titleA'"}],
  "mark":{"type":"text","fontSize":27,"fontWeight":"bold","fontStyle":"italic","color":"#231f20","align":"left","baseline":"alphabetic"},
  "encoding":{"x":{"field":"P","type":"quantitative","axis":null},"y":{"field":"Pdot","type":"quantitative","axis":null},"text":{"field":"text"}}},
 {"data":{"name":"labels"},"transform":[{"filter":"datum.group === 'titleB'"}],
  "mark":{"type":"text","fontSize":27,"fontWeight":"bold","color":"#231f20","align":"left","baseline":"alphabetic"},
  "encoding":{"x":{"field":"P","type":"quantitative","axis":null},"y":{"field":"Pdot","type":"quantitative","axis":null},"text":{"field":"text"}}},
 {"data":{"name":"labels"},"transform":[{"filter":"datum.group === 'source'"}],
  "mark":{"type":"text","angle":270,"fontSize":13,"color":"#8a8a8a","align":"center","baseline":"middle"},
  "encoding":{"x":{"field":"P","type":"quantitative","axis":null},"y":{"field":"Pdot","type":"quantitative","axis":null},"text":{"field":"text"}}}
],
"resolve":{"axis":{"x":"independent","y":"independent"}}
}
